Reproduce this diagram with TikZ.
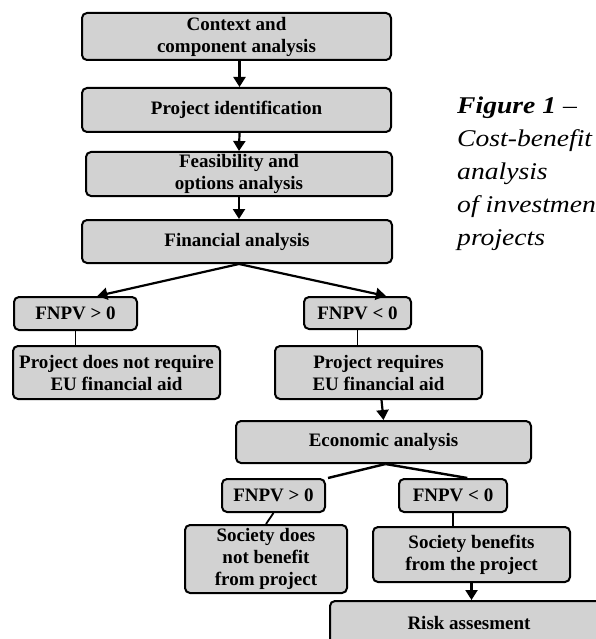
\documentclass[tikz,border=0pt]{standalone}
\usepackage{fontspec}
\setmainfont{Liberation Serif}
\usetikzlibrary{arrows.meta,calc}
\definecolor{boxgray}{RGB}{210,210,210}
\begin{document}
\begin{tikzpicture}[x=1pt,y=-1pt,
  stepbox/.style={draw=black,line width=2pt,rounded corners=5pt,fill=boxgray,align=center,inner sep=0pt,font=\fontsize{19}{22}\selectfont\bfseries},
  flow/.style={line width=2.2pt,-{Triangle[width=12pt,length=10pt]}},
  link/.style={line width=1.8pt},
  branch/.style={line width=2.4pt}]
\useasboundingbox (0,0) rectangle (596,639);
\clip (0,0) rectangle (596,639);
\fill[white] (0,0) rectangle (596,639);
% main column
\node[stepbox,minimum width=309pt,minimum height=47pt] (ctx) at (236.5,36.5) {Context and\\component analysis};
\node[stepbox,minimum width=309pt,minimum height=44pt] (pid) at (236.5,110) {Project identification};
\node[stepbox,minimum width=306pt,minimum height=44pt] (feas) at (239,174) {Feasibility and\\options analysis};
\node[stepbox,minimum width=310pt,minimum height=43pt] (fin) at (237,241.5) {Financial analysis};
% first branch
\node[stepbox,minimum width=123pt,minimum height=33pt] (f1) at (75.5,313.5) {FNPV \textgreater{} 0};
\node[stepbox,minimum width=207pt,minimum height=53pt] (nreq) at (116.5,372.5) {Project does not require\\EU financial aid};
\node[stepbox,minimum width=107pt,minimum height=32pt] (f2) at (357.5,313) {FNPV \textless{} 0};
\node[stepbox,minimum width=207pt,minimum height=53pt] (req) at (378.5,372.5) {Project requires\\EU financial aid};
\node[stepbox,minimum width=295pt,minimum height=42pt] (econ) at (383.5,442) {Economic analysis};
% second branch
\node[stepbox,minimum width=103pt,minimum height=33pt] (f3) at (273.5,495.5) {FNPV \textgreater{} 0};
\node[stepbox,minimum width=108pt,minimum height=33pt] (f4) at (453,495.5) {FNPV \textless{} 0};
\node[stepbox,minimum width=162pt,minimum height=68pt] (nben) at (266,559) {Society does\\not benefit\\from project};
\node[stepbox,minimum width=197pt,minimum height=55pt] (ben) at (471.5,554.5) {Society benefits\\from the project};
\node[stepbox,minimum width=278pt,minimum height=44pt] (risk) at (469,623) {Risk assesment};
% caption
\node[anchor=north west,inner sep=0pt] (cap) at (457,90) {\scalebox{1.15}[1]{\fontsize{24}{33}\selectfont\itshape\begin{tabular}{@{}l@{}}\textbf{Figure 1} –\\Cost-benefit\\analysis\\of investment\\projects\end{tabular}}};
% connectors
\draw[flow] ([xshift=3pt]ctx.south) -- ([xshift=3pt]pid.north);
\draw[flow] ([xshift=3pt]pid.south) -- (feas.north);
\draw[flow] (feas.south) -- ([xshift=2pt]fin.north);
\draw[flow] ([xshift=2pt]fin.south) -- ($(f1.north west)!0.675!(f1.north east)$);
\draw[flow] ([xshift=2pt]fin.south) -- ($(f2.north west)!0.76!(f2.north east)$);
\draw[link] (f1.south) -- (nreq.north -| f1.south);
\draw[link] (f2.south) -- (req.north -| f2.south);
\draw[flow] ([xshift=3pt]req.south) -- (econ.north);
\draw[branch] ([xshift=2pt]econ.south) -- ([xshift=2pt]f3.north east);
\draw[branch] ([xshift=2pt]econ.south) -- ($(f4.north west)!0.63!(f4.north east)$);
\draw[link] (f3.south) -- (nben.north);
\draw[link] (f4.south) -- (ben.north -| f4.south);
\draw[flow] (ben.south) -- (ben.south |- risk.north);
\end{tikzpicture}
\end{document}
